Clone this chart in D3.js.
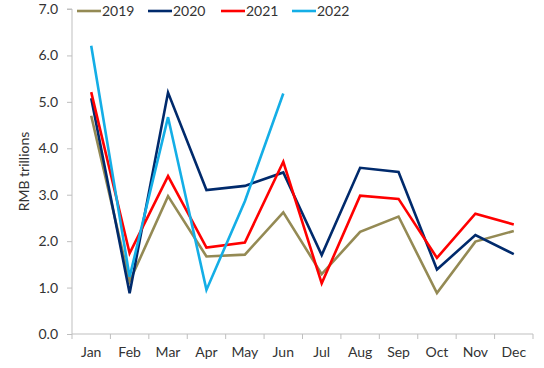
<!DOCTYPE html>
<html lang="en">
<head>
<meta charset="utf-8">
<title>Monthly RMB trillions</title>
<script src="https://cdn.jsdelivr.net/npm/d3@7"></script>
<style>
  body { margin: 0; background: #fff; }
  text { font-family: Lato, "Open Sans", sans-serif; fill: #333; }
</style>
</head>
<body>
<script>
var months = ["Jan", "Feb", "Mar", "Apr", "May", "Jun", "Jul", "Aug", "Sep", "Oct", "Nov", "Dec"];
var years = ["2019", "2020", "2021", "2022"];
var v2019 = [4.70, 1.13, 2.97, 1.67, 1.71, 2.62, 1.29, 2.20, 2.53, 0.88, 1.99, 2.22];
var v2020 = [5.08, 0.88, 5.20, 3.10, 3.19, 3.48, 1.70, 3.58, 3.49, 1.39, 2.13, 1.72];
var v2021 = [5.21, 1.74, 3.40, 1.86, 1.97, 3.71, 1.09, 2.98, 2.91, 1.64, 2.59, 2.36];
var v2022 = [6.21, 1.23, 4.67, 0.95, 2.86, 5.18];
var yTicks = [0, 1, 2, 3, 4, 5, 6, 7];
var colors = ["#948A54", "#002A6C", "#FF0000", "#14AEE6"];
var series = [v2019, v2020, v2021, v2022];

var w = 544, h = 368;
var plotL = 72, plotR = 533, plotT = 9, plotB = 334;

var svg = d3.select("body").append("svg")
    .attr("width", w)
    .attr("height", h);

var x = d3.scaleBand().domain(months).range([plotL, plotR]);
var y = d3.scaleLinear().domain([0, 7]).range([plotB, plotT]);

// y axis
var yAxis = svg.append("g")
    .attr("transform", "translate(" + plotL + ",0)")
    .call(d3.axisLeft(y).tickValues(yTicks).tickFormat(d3.format(".1f")).tickSize(5).tickPadding(9));
yAxis.select(".domain").attr("stroke", "#BFBFBF").attr("d", "M-5," + plotT + "H0V" + plotB);
yAxis.selectAll(".tick line").attr("stroke", "#BFBFBF");
yAxis.selectAll("text").attr("font-size", "14px").attr("fill", "#333");

// x axis
var xAxis = svg.append("g")
    .attr("transform", "translate(0," + plotB + ")")
    .call(d3.axisBottom(x).tickSize(0).tickPadding(13));
xAxis.select(".domain").attr("stroke", "#BFBFBF").attr("d", "M" + plotL + ",0H" + plotR);
xAxis.selectAll("text").attr("font-size", "14px").attr("fill", "#333");
xAxis.selectAll(".bound")
    .data(d3.range(months.length + 1))
    .enter()
    .append("line")
    .attr("x1", function (d) { return plotL + d * x.bandwidth(); })
    .attr("x2", function (d) { return plotL + d * x.bandwidth(); })
    .attr("y1", 0)
    .attr("y2", 5)
    .attr("stroke", "#BFBFBF");

// y label
svg.append("text")
    .attr("transform", "translate(29," + (plotT + plotB) / 2 + ") rotate(-90)")
    .attr("text-anchor", "middle")
    .attr("font-size", "14px")
    .text("RMB trillions");

// lines
var line = d3.line()
    .x(function (d, i) { return x(months[i]) + x.bandwidth() / 2; })
    .y(function (d) { return y(d); });

svg.selectAll(".series")
    .data(series)
    .enter()
    .append("path")
    .attr("d", line)
    .attr("fill", "none")
    .attr("stroke", function (d, i) { return colors[i]; })
    .attr("stroke-width", 2.6)
    .attr("stroke-linejoin", "miter");

// legend
var legendX = [77, 148, 221, 292];
var lg = svg.selectAll(".legend")
    .data(years)
    .enter()
    .append("g")
    .attr("transform", function (d, i) { return "translate(" + legendX[i] + ",11)"; });
lg.append("line")
    .attr("x1", 0).attr("x2", 24)
    .attr("stroke", function (d, i) { return colors[i]; })
    .attr("stroke-width", 2.6);
lg.append("text")
    .attr("x", 25)
    .attr("dy", "0.35em")
    .attr("font-size", "14px")
    .text(function (d) { return d; });
</script>
</body>
</html>
